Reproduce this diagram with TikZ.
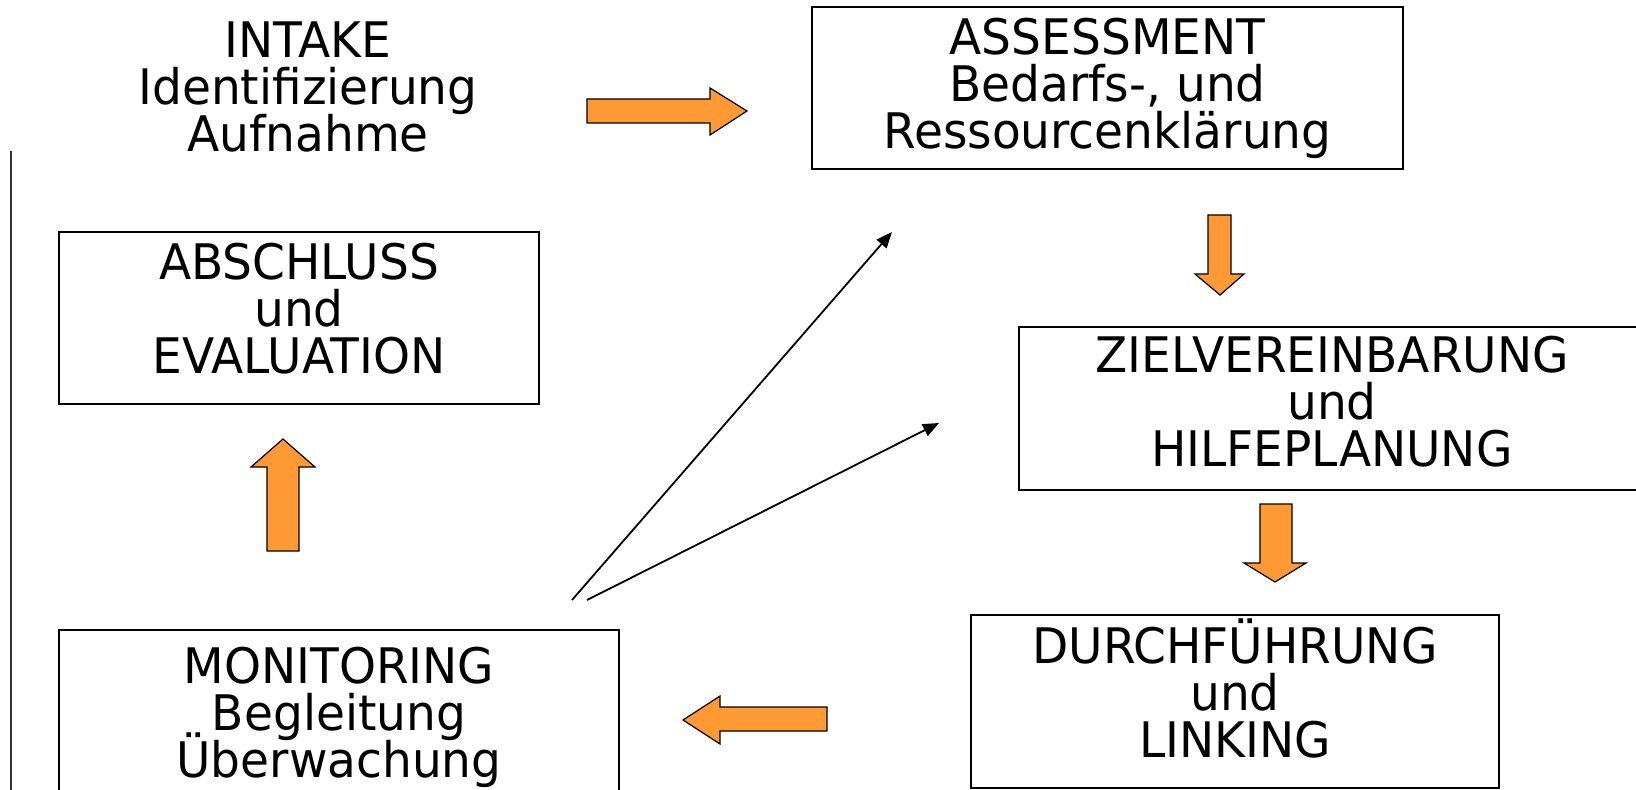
\documentclass[tikz,border=0pt]{standalone}
\usepackage{fontspec}
\setmainfont{DejaVu Sans}[FakeStretch=0.96]
\usetikzlibrary{arrows.meta}
\definecolor{arroworange}{RGB}{255,153,51}
\newcommand\stagefont{\fontsize{24.5}{23.5}\selectfont\lineskiplimit=-20pt}
\tikzset{
  stage/.style={draw, line width=0.8pt, align=center, inner sep=0pt, font=\stagefont},
  plain/.style={align=center, inner sep=0pt, font=\stagefont},
  blockarrow/.style={draw, line width=0.6pt, fill=arroworange, line join=miter},
  thinarrow/.style={-{Triangle[length=8pt,width=6.5pt]}, line width=0.9pt}
}

\begin{document}
\begin{tikzpicture}[x=0.5pt, y=-0.5pt]
		\useasboundingbox (0,0) rectangle (1636,790);
		\node(intake)[plain] at (308,87) {INTAKE\\Identifizierung\\Aufnahme};
		\node(assess)[stage, minimum width=295.5pt, minimum height=81pt] at (1107.5,88) {ASSESSMENT\\Bedarfs-, und\\Ressourcenklärung};
		\node(ziel)[stage, minimum width=313pt, minimum height=81.5pt, text depth=7pt] at (1332,408.5) {ZIELVEREINBARUNG\\und\\HILFEPLANUNG};
		\node(durch)[stage, minimum width=264pt, minimum height=86.5pt, text depth=13pt] at (1235,701.5) {DURCHFÜHRUNG\\und\\LINKING};
		\node(monit)[stage, minimum width=280pt, minimum height=85pt, text depth=3pt] at (339,715) {MONITORING\\Begleitung\\Überwachung};
		\node(absch)[stage, minimum width=240pt, minimum height=86pt, text depth=10pt] at (299,318) {ABSCHLUSS\\und\\EVALUATION};
		\draw[blockarrow] (587,99) -- (710,99) -- (710,88) -- (747,111) -- (710,135) -- (710,123) -- (587,123) -- cycle;
		\draw[blockarrow] (1208,215) -- (1231,215) -- (1231,274) -- (1244,274) -- (1220,295) -- (1195,274) -- (1208,274) -- cycle;
		\draw[blockarrow] (1260,504) -- (1292,504) -- (1292,563) -- (1306,563) -- (1275,582) -- (1244,563) -- (1260,563) -- cycle;
		\draw[blockarrow] (827,707) -- (720,707) -- (720,696) -- (683,720) -- (720,744) -- (720,731) -- (827,731) -- cycle;
		\draw[blockarrow] (267,551) -- (267,467) -- (251,467) -- (283,439) -- (315,467) -- (299,467) -- (299,551) -- cycle;
		\coordinate(monitA) at (572,600);
		\coordinate(assessA) at (892,232);
		\coordinate(monitB) at (587,600);
		\coordinate(zielB) at (939,423);
		\draw[thinarrow](monitA) -- (assessA);
		\draw[thinarrow](monitB) -- (zielB);
		\coordinate(railtop) at (10.5,151);
		\coordinate(railbot) at (10.5,795);
		\draw[line width=1pt, black!80](railtop) -- (railbot);
	\end{tikzpicture}
\end{document}
